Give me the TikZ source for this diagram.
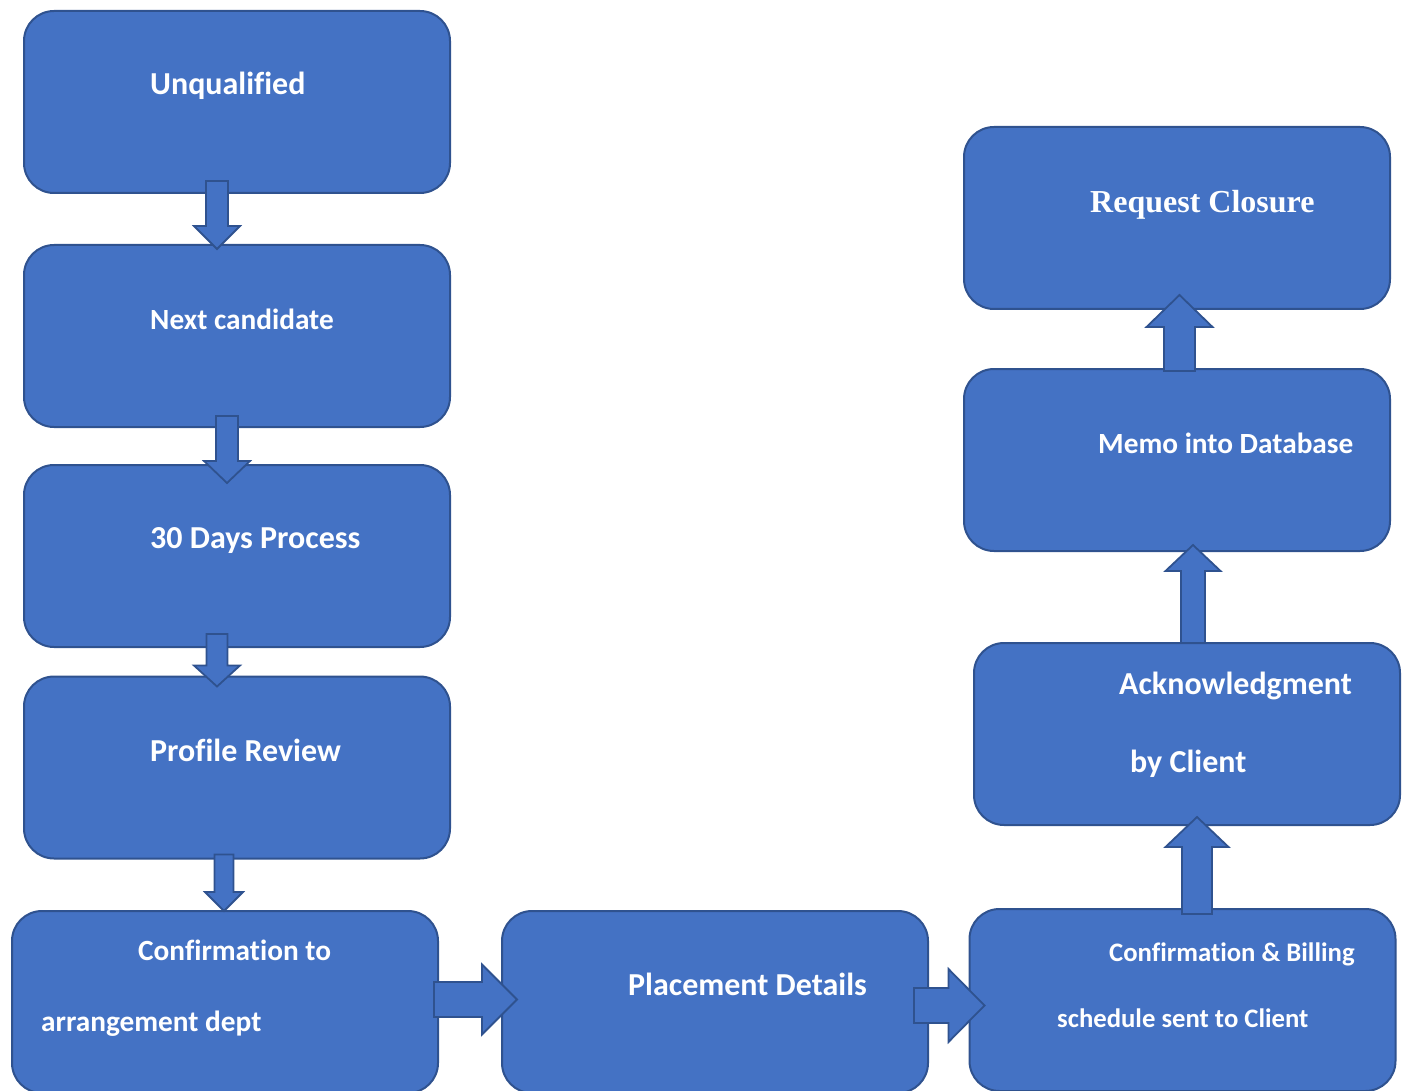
\documentclass[tikz,border=0pt]{standalone}
\usepackage{fontspec}
\setmainfont{Carlito}[Ligatures=CommonOff]
\newfontfamily\closurefont{Liberation Serif}[Ligatures=CommonOff]
\usetikzlibrary{calc}

\definecolor{boxfill}{RGB}{68,114,196}
\definecolor{boxline}{RGB}{47,82,143}

\tikzset{
	box/.style={rectangle,rounded corners=30pt,fill=boxfill,draw=boxline,line width=2pt,minimum width=426pt,minimum height=182pt},
	txt/.style={anchor=base west,inner sep=0pt,text=white,font=\bfseries},
	bigtxt/.style={txt,font=\bfseries\fontsize{32}{38}\selectfont},
	midtxt/.style={txt,font=\bfseries\fontsize{29.3}{35}\selectfont},
	smalltxt/.style={txt,font=\bfseries\fontsize{26.7}{32}\selectfont},
	blockarrow/.style n args={3}{fill=boxfill,draw=boxline,line width=1.8pt,line join=miter,
		to path={($(\tikztotarget)!#3!(\tikztostart)$) coordinate (bh)
			($(\tikztostart)!#1!90:(\tikztotarget)$) -- ($(bh)!#1!90:(\tikztotarget)$) -- ($(bh)!#2!90:(\tikztotarget)$) -- (\tikztotarget) -- ($(bh)!#2!-90:(\tikztotarget)$) -- ($(bh)!#1!-90:(\tikztotarget)$) -- ($(\tikztostart)!#1!-90:(\tikztotarget)$) -- cycle}}
}

\begin{document}
\begin{tikzpicture}[x=1pt,y=-1pt]
		\useasboundingbox (0,0) rectangle (1408,1091);
		\clip (0,0) rectangle (1408,1091);
		
		\node[box] (unq) at (237,102) {};
		\node[box] (next) at (237,336) {};
		\node[box] (days) at (237,556) {};
		\node[box] (prof) at (237,767.5) {};
		\node[box] (conf) at (225,1002) {};
		\node[box] (place) at (715,1002) {};
		\node[box] (bill) at (1182.5,1000) {};
		\node[box] (ack) at (1187,734) {};
		\node[box] (memo) at (1177,460) {};
		\node[box] (req) at (1177,218) {};
		
		\node[bigtxt] (unqtxt) at (150,94.5) {Unqualified};
		\node[midtxt] (nexttxt) at (150,329) {Next candidate};
		\node[bigtxt] (daystxt) at (150,548.5) {30 Days Process};
		\node[bigtxt] (proftxt) at (150,761.5) {Profile Review};
		\node[midtxt] (conftxta) at (138,960) {Confirmation to};
		\node[midtxt] (conftxtb) at (41,1031) {arrangement dept};
		\node[bigtxt] (placetxt) at (628,995.5) {Placement Details};
		\node[smalltxt] (billtxta) at (1109,961.5) {Confirmation \& Billing};
		\node[smalltxt] (billtxtb) at (1057,1027.5) {schedule sent to Client};
		\node[bigtxt] (acktxta) at (1119,694.5) {Acknowledgment};
		\node[bigtxt] (acktxtb) at (1130,772.5) {by Client};
		\node[midtxt] (memotxt) at (1098,453) {Memo into Database};
		\node[bigtxt,font=\closurefont\bfseries\fontsize{32}{38}\selectfont] (reqtxt) at (1090,212.5) {Request Closure};
		
		\draw[blockarrow={11pt}{23pt}{23pt}] ($(unq.south)+(-20,-13)$) to ($(next.north)+(-20,5)$);
		\draw[blockarrow={11pt}{23pt}{22pt}] ($(next.south)+(-10,-12)$) to ($(days.north)+(-10,19)$);
		\draw[blockarrow={10.5pt}{23pt}{21pt}] ($(days.south)+(-20,-14)$) to ($(prof.north)+(-20,11)$);
		\draw[blockarrow={9.5pt}{19pt}{19pt}] ($(prof.south)+(-13,-5)$) to ($(conf.north)+(-1,1)$);
		\draw[blockarrow={17.5pt}{35pt}{35pt}] ($(conf.east)+(-5,-2.5)$) to ($(place.west)+(16,-2.5)$);
		\draw[blockarrow={17.5pt}{36.5pt}{36pt}] ($(place.east)+(-15,3.5)$) to ($(bill.west)+(16,5.5)$);
		\draw[blockarrow={15pt}{31.5pt}{30pt}] ($(bill.north)+(14.5,6)$) to ($(ack.south)+(10,-9)$);
		\draw[blockarrow={12pt}{27.5pt}{26pt}] ($(ack.north)+(6,1)$) to ($(memo.south)+(16,-7)$);
		\draw[blockarrow={15.5pt}{33pt}{32pt}] ($(memo.north)+(2.5,3)$) to ($(req.south)+(2.5,-15)$);
		\end{tikzpicture}
\end{document}
